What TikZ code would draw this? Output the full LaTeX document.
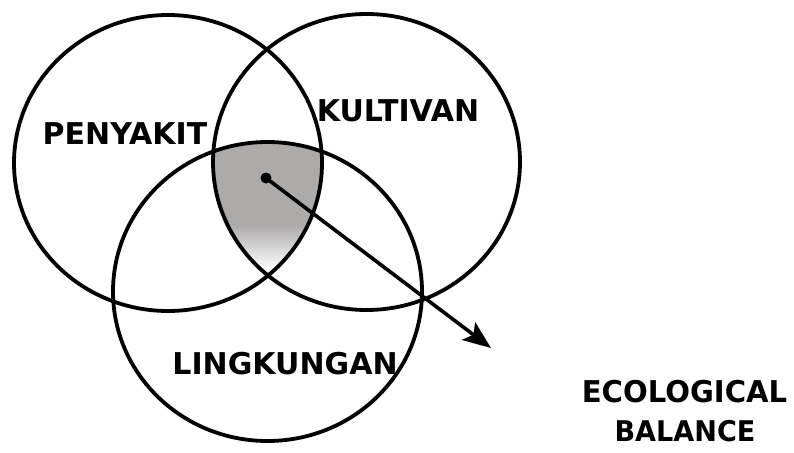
\documentclass[tikz,border=0pt]{standalone}
\usepackage{fontspec}
\setmainfont{DejaVu Sans}
\usetikzlibrary{arrows.meta}
\definecolor{shadegray}{RGB}{173,170,170}
\tikzset{
  ring/.style={draw=black, line width=3.8pt},
  lbl/.style={inner sep=0pt, font=\bfseries\fontsize{30}{33}\selectfont},
  pointer/.style={line width=3.6pt, -{Stealth[length=28pt, width=22pt, inset=6pt]}},
}
\begin{document}
\begin{tikzpicture}[x=1pt,y=-1pt]
\useasboundingbox (0,0) rectangle (794,452);
\fill[white] (0,0) rectangle (794,452);
\coordinate (cL) at (168,163);
\coordinate (cR) at (366.5,162);
\coordinate (cB) at (267.5,291.5);
% shaded triple intersection
\begin{scope}[shift={(-3,-2)}]
  \clip (cL) ellipse [x radius=154pt, y radius=148pt];
  \clip (cR) ellipse [x radius=153.5pt, y radius=148pt];
  \clip (cB) ellipse [x radius=154.5pt, y radius=149.5pt];
  \fill[shadegray] (190,130) rectangle (340,228);
  \shade[top color=shadegray, bottom color=white] (190,227) rectangle (340,272);
\end{scope}
\draw[ring] (cL) ellipse [x radius=154pt, y radius=148pt];
\draw[ring] (cR) ellipse [x radius=153.5pt, y radius=148pt];
\draw[ring] (cB) ellipse [x radius=154.5pt, y radius=149.5pt];
\node[circle, fill=black, inner sep=0pt, minimum size=11pt] (dot) at (266,178) {};
\coordinate (tip) at (491,348);
\draw[pointer] (dot.center) -- (tip);
\node[lbl] (pen) at (125,133.5) {PENYAKIT};
\node[lbl] (kul) at (398,111) {KULTIVAN};
\node[lbl] (lin) at (285,363.5) {LINGKUNGAN};
\node[lbl, xscale=0.97] (eco) at (684.5,392) {ECOLOGICAL};
\node[lbl, xscale=0.95, scale=0.95] (bal) at (685,431) {BALANCE};
\end{tikzpicture}
\end{document}
